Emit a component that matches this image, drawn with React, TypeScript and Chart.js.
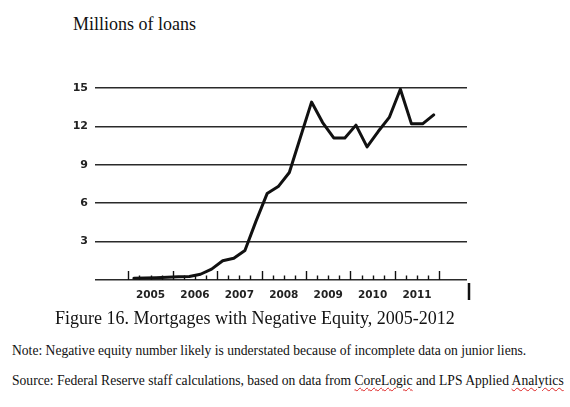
import React, { useEffect, useRef } from "react";
import { Chart, registerables } from "chart.js";

Chart.register(...registerables);

// Quarterly periods, 2005 Q1 through 2011 Q4
const quarterLabels = [
  "2005Q1", "2005Q2", "2005Q3", "2005Q4",
  "2006Q1", "2006Q2", "2006Q3", "2006Q4",
  "2007Q1", "2007Q2", "2007Q3", "2007Q4",
  "2008Q1", "2008Q2", "2008Q3", "2008Q4",
  "2009Q1", "2009Q2", "2009Q3", "2009Q4",
  "2010Q1", "2010Q2", "2010Q3", "2010Q4",
  "2011Q1", "2011Q2", "2011Q3", "2011Q4",
];

// Mortgages with negative equity, millions of loans
const negativeEquityMillions = [
  0.13, 0.15, 0.18, 0.22,
  0.25, 0.28, 0.45, 0.85,
  1.5, 1.7, 2.3, 4.6,
  6.75, 7.3, 8.4, 11.15,
  13.9, 12.3, 11.1, 11.1,
  12.1, 10.4, 11.6, 12.7,
  14.9, 12.2, 12.2, 12.9,
];

const yearLabels = ["2005", "2006", "2007", "2008", "2009", "2010", "2011"];
const yTickValues = [0, 3, 6, 9, 12, 15];

const TEXT_COLOR = "#222";
const LINE_COLOR = "#111";

const quarterTicksPlugin = {
  id: "quarterTicks",
  beforeDatasetsDraw(chart: any) {
    const { ctx, chartArea, scales } = chart;
    const xs = scales.x;
    const yBase = scales.y.getPixelForValue(0);
    ctx.save();
    ctx.strokeStyle = LINE_COLOR;
    ctx.lineWidth = 1.4;
    const nQuarters = quarterLabels.length;
    for (let q = 0; q <= nQuarters; q++) {
      const x = Math.round(xs.getPixelForValue(q)) + 0.5;
      const h = q % 4 === 0 ? 9 : 4.5;
      ctx.beginPath();
      ctx.moveTo(x, yBase);
      ctx.lineTo(x, yBase - h);
      ctx.stroke();
    }
    // short heavy mark at the bottom-right corner
    ctx.lineWidth = 2.5;
    ctx.beginPath();
    ctx.moveTo(chartArea.right + 2, yBase + 3);
    ctx.lineTo(chartArea.right + 2, yBase + 20);
    ctx.stroke();
    ctx.restore();
  },
};

function NegativeEquityChart() {
  const canvasRef = useRef<HTMLCanvasElement | null>(null);

  useEffect(() => {
    if (!canvasRef.current) return;
    const points = quarterLabels.map((_, i) => ({
      x: i + 0.5,
      y: negativeEquityMillions[i],
    }));
    const yearCenters = yearLabels.map((_, i) => i * 4 + 2);

    const chart = new Chart(canvasRef.current, {
      type: "line",
      data: {
        datasets: [
          {
            label: "Millions of loans",
            data: points,
            borderColor: LINE_COLOR,
            borderWidth: 3,
            pointRadius: 0,
            tension: 0,
            borderJoinStyle: "round",
            borderCapStyle: "round",
            fill: false,
          },
        ],
      },
      options: {
        responsive: false,
        animation: false,
        layout: { padding: { top: 88, right: 103, left: 0, bottom: 0 } },
        plugins: {
          legend: { display: false },
          tooltip: { enabled: false },
          title: { display: false },
        },
        scales: {
          x: {
            type: "linear",
            min: -3,
            max: 30.5,
            afterFit(scale: any) {
              scale.height = 30;
            },
            afterBuildTicks(scale: any) {
              scale.ticks = yearCenters.map((v) => ({ value: v }));
            },
            ticks: {
              autoSkip: false,
              maxRotation: 0,
              padding: 9,
              color: TEXT_COLOR,
              font: { family: "DejaVu Sans", size: 10.5, weight: "bold" },
              callback: (value: any) => {
                const idx = yearCenters.indexOf(Number(value));
                return idx >= 0 ? yearLabels[idx] : "";
              },
            },
            grid: { display: false, drawTicks: false, tickLength: 0 },
            border: { display: false },
          },
          y: {
            min: 0,
            max: 15,
            afterFit(scale: any) {
              scale.width = 95;
            },
            afterBuildTicks(scale: any) {
              scale.ticks = yTickValues.map((v) => ({ value: v }));
            },
            ticks: {
              padding: 7,
              color: TEXT_COLOR,
              font: { family: "DejaVu Sans", size: 11, weight: "bold" },
              callback: (value: any) => (Number(value) === 0 ? "" : String(value)),
            },
            grid: {
              color: "#2a2a2a",
              lineWidth: 1.5,
              drawTicks: false,
            },
            border: { display: false },
          },
        },
      },
      plugins: [quarterTicksPlugin],
    });
    return () => chart.destroy();
  }, []);

  return (
    <canvas
      ref={canvasRef}
      width={570}
      height={310}
      style={{ position: "absolute", left: 0, top: 0, width: 570, height: 310 }}
    />
  );
}

const squiggle: React.CSSProperties = {
  textDecorationLine: "underline",
  textDecorationStyle: "wavy",
  textDecorationColor: "#d22",
  textDecorationThickness: "1px",
  textUnderlineOffset: "2px",
};

export default function App() {
  const serif = '"Liberation Serif", "Times New Roman", serif';
  return (
    <div
      style={{
        position: "fixed",
        left: 0,
        top: 0,
        width: 570,
        height: 407,
        background: "#fff",
        overflow: "hidden",
        fontFamily: serif,
        color: "#111",
      }}
    >
      <div style={{ position: "absolute", left: 73, top: 15, fontSize: 18, lineHeight: 1, whiteSpace: "nowrap" }}>
        Millions of loans
      </div>
      <NegativeEquityChart />
      <div style={{ position: "absolute", left: 55, top: 309, fontSize: 18, lineHeight: 1, whiteSpace: "nowrap" }}>
        Figure 16. Mortgages with Negative Equity, 2005-2012
      </div>
      <div style={{ position: "absolute", left: 12, top: 343.6, fontSize: 13.6, lineHeight: 1, whiteSpace: "nowrap" }}>
        Note: Negative equity number likely is understated because of incomplete data on junior liens.
      </div>
      <div style={{ position: "absolute", left: 12, top: 373.6, fontSize: 13.6, lineHeight: 1, whiteSpace: "nowrap" }}>
        Source: Federal Reserve staff calculations, based on data from <span style={squiggle}>CoreLogic</span> and LPS Applied{" "}
        <span style={squiggle}>Analytics</span>
      </div>
    </div>
  );
}
